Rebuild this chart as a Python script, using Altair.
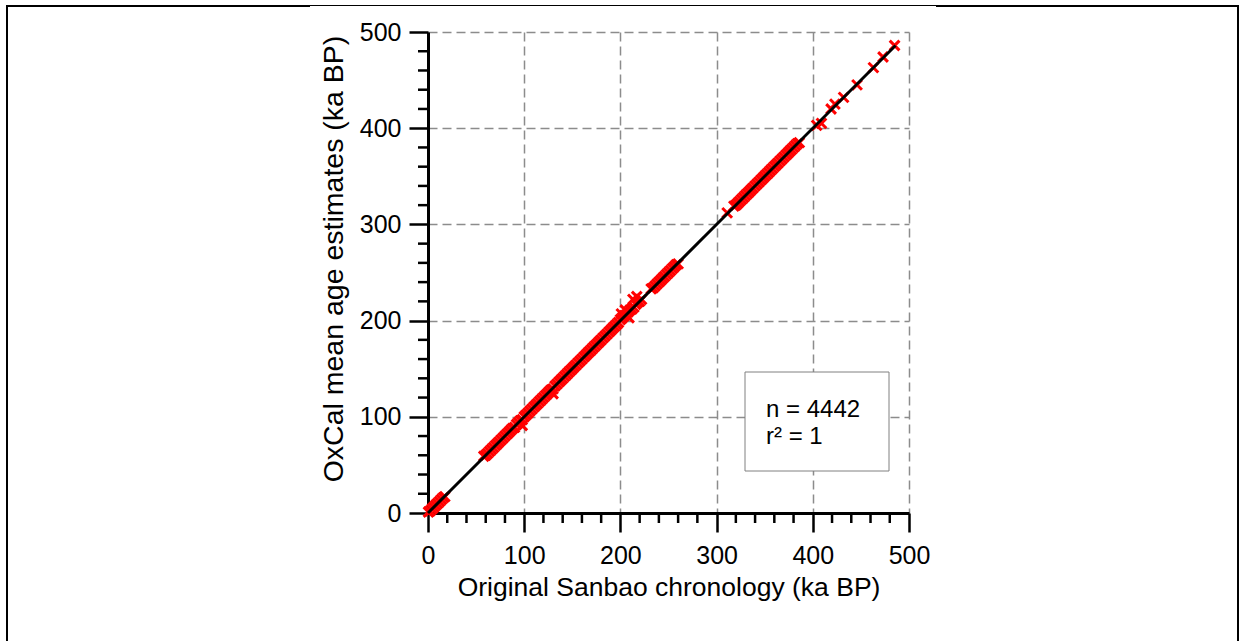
import altair as alt
import pandas as pd

# Original Sanbao chronology (ka BP) against OxCal mean age estimates (ka BP)
sanbao_young = [0.5, 2, 4, 6, 8, 10, 12, 14, 16, 17.5]
oxcal_young = [1, 2, 4, 6, 8, 10, 12, 14, 16, 17]

sanbao_mid = [58, 60, 62, 64, 66, 68, 70, 72, 74, 76,
              78, 80, 82, 84, 86, 88, 90, 92, 94, 96,
              98, 100, 102, 104, 106, 108, 110, 112, 114, 116,
              118, 120, 122, 124, 126, 128, 130, 132, 134, 136,
              138, 140, 142, 144, 146, 148, 150, 152, 154, 156,
              158, 160, 162, 164, 166, 168, 170, 172, 174, 176,
              178, 180, 182, 184, 186, 188, 190, 192, 194, 196,
              198, 200, 202, 204, 206, 208, 210, 212, 214, 216,
              218, 220, 222]
oxcal_mid = [59, 60, 62, 64, 66, 68, 70, 72, 74, 76,
             78, 80, 82, 84, 86, 88, 89, 92, 94, 96,
             97, 100, 102, 104, 106, 108, 110, 112, 114, 116,
             118, 120, 122, 124, 126, 128, 129, 132, 134, 136,
             138, 140, 142, 144, 146, 148, 150, 152, 154, 156,
             158, 160, 162, 164, 166, 168, 170, 172, 174, 176,
             178, 180, 182, 184, 186, 188, 190, 192, 194, 196,
             198, 201, 203, 205, 206, 209, 211, 212, 214, 217,
             219, 220, 222]

sanbao_scatter = [98, 130, 201, 205, 209, 213, 217]
oxcal_scatter = [91, 124, 207, 211, 203, 222, 225]

sanbao_upper = [232, 234, 236, 238, 240, 242, 244, 246, 248, 250,
                252, 254, 256, 258, 260]
oxcal_upper = [233, 234, 236, 238, 240, 242, 244, 246, 248, 250,
               252, 254, 256, 258, 259]

sanbao_old = [311,
              318, 320, 322, 324, 326, 328, 330, 332, 334, 336,
              338, 340, 342, 344, 346, 348, 350, 352, 354, 356,
              358, 360, 362, 364, 366, 368, 370, 372, 374, 376,
              378, 380, 382, 384, 386]
oxcal_old = [312,
             319, 320, 322, 324, 326, 328, 330, 332, 334, 336,
             338, 340, 342, 344, 346, 348, 350, 352, 354, 356,
             358, 360, 362, 364, 366, 368, 370, 372, 374, 376,
             378, 380, 382, 384, 385]

sanbao_oldest = [404, 409, 419, 423, 432, 446, 463, 473, 485]
oxcal_oldest = [403, 405, 420, 425, 432, 445, 463, 474, 486]

# 1:1 regression line
fit_x = [0, 486]
fit_y = [0, 486]

major_ticks = [0, 100, 200, 300, 400, 500]
minor_ticks = [20, 40, 60, 80, 120, 140, 160, 180, 220, 240, 260, 280,
               320, 340, 360, 380, 420, 440, 460, 480]

stats_lines = ["n = 4442", "r\u00b2 = 1"]

W = H = 481
FONT = "Liberation Sans"

points = pd.DataFrame({
    "sanbao": sanbao_young + sanbao_mid + sanbao_scatter + sanbao_upper
    + sanbao_old + sanbao_oldest,
    "oxcal": oxcal_young + oxcal_mid + oxcal_scatter + oxcal_upper
    + oxcal_old + oxcal_oldest,
})
fit = pd.DataFrame({"sanbao": fit_x, "oxcal": fit_y})
minor = pd.DataFrame({"sanbao": minor_ticks, "oxcal": minor_ticks})

xscale = alt.Scale(domain=[0, 500], nice=False, zero=False)
yscale = alt.Scale(domain=[0, 500], nice=False, zero=False)

common_axis = dict(
    values=major_ticks, format="d",
    labelFont=FONT, labelFontSize=25, labelColor="black",
    labelOverlap=False, labelFlush=False,
    tickSize=19, tickWidth=2.5, tickColor="black",
    domainColor="black", domainWidth=3,
    grid=True, gridColor="#8c8c8c", gridDash=[9, 5], gridWidth=1.5,
    titleFont=FONT, titleFontWeight="normal", titleColor="black",
    titleAlign="center", titleBaseline="alphabetic",
)

x_axis = alt.Axis(
    title="Original Sanbao chronology (ka BP)", orient="bottom",
    labelPadding=11, titleFontSize=26.5, titleX=W / 2, titleY=82,
    **common_axis,
)
y_axis = alt.Axis(
    title="OxCal mean age estimates (ka BP)", orient="left",
    labelPadding=8, titleFontSize=28.5, titleAngle=270,
    titleX=-86, titleY=226.5,
    **common_axis,
)

X = alt.X("sanbao:Q", scale=xscale, axis=x_axis)
Y = alt.Y("oxcal:Q", scale=yscale, axis=y_axis)

x_shape = "M-1,-1L1,1M-1,1L1,-1"

scatter = alt.Chart(points).mark_point(
    shape=x_shape, filled=False, stroke="#ff0000", strokeWidth=3,
    size=95, opacity=1,
).encode(x=X, y=Y)

line = alt.Chart(fit).mark_line(color="black", strokeWidth=3).encode(x=X, y=Y)

# minor ticks every 20 ka on both axes
minor_x = alt.Chart(minor).mark_rule(color="black", strokeWidth=2.5).encode(
    x=X, y=alt.value(H), y2=alt.value(H + 10),
)
minor_y = alt.Chart(minor).mark_rule(color="black", strokeWidth=2.5).encode(
    y=Y, x=alt.value(-10), x2=alt.value(0),
)

one = pd.DataFrame({"k": [0]})

# statistics box
box = alt.Chart(one).mark_rect(
    fill="white", stroke="#808080", strokeWidth=1,
).encode(
    x=alt.value(317), x2=alt.value(461), y=alt.value(340), y2=alt.value(439),
)
stat_n = alt.Chart(one).mark_text(
    font=FONT, fontSize=24, color="black", align="left", baseline="alphabetic",
    text=stats_lines[0],
).encode(x=alt.value(338), y=alt.value(385))
stat_r = alt.Chart(one).mark_text(
    font=FONT, fontSize=24, color="black", align="left", baseline="alphabetic",
    text=stats_lines[1],
).encode(x=alt.value(338), y=alt.value(412))

# page frame
frame_left = alt.Chart(one).mark_rule(color="black", strokeWidth=2).encode(
    x=alt.value(-421), y=alt.value(-27), y2=alt.value(620))
frame_right = alt.Chart(one).mark_rule(color="black", strokeWidth=2).encode(
    x=alt.value(810), y=alt.value(-27), y2=alt.value(620))
frame_top_l = alt.Chart(one).mark_rule(color="black", strokeWidth=2).encode(
    x=alt.value(-422), x2=alt.value(-118), y=alt.value(-26))
frame_top_m = alt.Chart(one).mark_rule(color="black", strokeWidth=1).encode(
    x=alt.value(-118), x2=alt.value(508), y=alt.value(-26.5))
frame_top_r = alt.Chart(one).mark_rule(color="black", strokeWidth=2).encode(
    x=alt.value(508), x2=alt.value(811), y=alt.value(-26))

chart = alt.layer(
    scatter, line, minor_x, minor_y, box, stat_n, stat_r,
    frame_left, frame_right, frame_top_l, frame_top_m, frame_top_r,
).properties(
    width=W, height=H,
    autosize=alt.AutoSizeParams(type="none"),
    padding={"left": 428, "top": 32, "right": 331, "bottom": 128},
    background="white",
).configure_view(stroke=None)

chart.save("out.html", embed_options={"renderer": "svg", "actions": False})
